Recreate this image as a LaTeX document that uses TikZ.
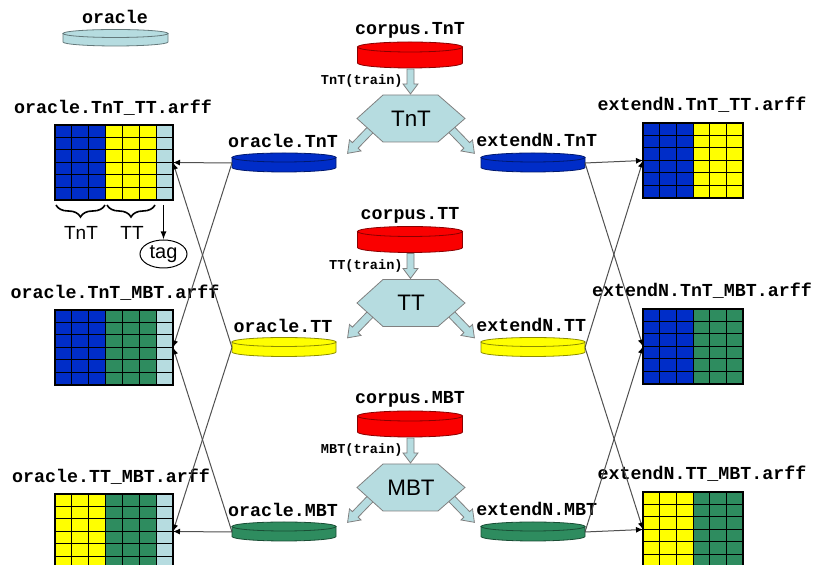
\documentclass[tikz,border=0pt]{standalone}
\usepackage{fontspec}
\setmainfont{Liberation Sans}
\newfontfamily\courier{Liberation Mono}
\usetikzlibrary{arrows.meta,decorations.pathreplacing,shapes.geometric}

\definecolor{cblue}{RGB}{0,45,200}
\definecolor{cyellow}{RGB}{255,255,0}
\definecolor{cgreen}{RGB}{46,140,95}
\definecolor{clight}{RGB}{182,220,224}
\definecolor{cred}{RGB}{250,0,0}
\definecolor{wire}{RGB}{80,80,80}

\begin{document}
\begin{tikzpicture}[x=0.5pt,y=0.5pt,
    lbl/.style={font=\courier\bfseries\fontsize{9.15}{10}\selectfont, inner sep=0pt, anchor=base},
    small/.style={font=\courier\bfseries\fontsize{6.8}{8}\selectfont, inner sep=0pt, anchor=base east},
    word/.style={font=\fontsize{9.5}{10}\selectfont, inner sep=0pt, anchor=base},
    disk/.style={draw=#1!55!black, fill=#1, line width=0.4pt},
    fat/.style={draw=gray, fill=clight, line width=0.4pt},
    cell/.style={black, line width=0.5pt},
    frame/.style={black, line width=1.1pt},
    feed/.style={wire, line width=0.5pt, -{Latex[length=3.5pt,width=3pt,black]}}]
          \useasboundingbox (0,0) rectangle (815,-565);
          \clip (0,0) rectangle (815,-565);

          \draw[disk=clight] (63,-33.5) -- (63,-42) arc[start angle=180,end angle=360,x radius=52.5,y radius=4] -- (168,-33.5) -- cycle;
          \draw[disk=clight] (115.5,-33.5) ellipse[x radius=52.5,y radius=4];
          \node[lbl] (oracle) at (115,-24) {oracle};

          \foreach \nm/\col/\dy in {TnT/cblue/0, TT/cyellow/184.5, MBT/cgreen/369} {
            \begin{scope}[shift={(0,-\dy)}]
              \node[lbl] (c\nm) at (410,-35) {corpus.\nm};
              \draw[disk=cred] (357.5,-47) -- (357.5,-63) arc[start angle=180,end angle=360,x radius=52.5,y radius=5] -- (462.5,-47) -- cycle;
              \draw[disk=cred] (410,-47) ellipse[x radius=52.5,y radius=5];

              \draw[fat] (407,-69) -- (414,-69) -- (414,-84) -- (418,-84) -- (410.5,-94) -- (403,-84) -- (407,-84) -- cycle;
              \node[small] (t\nm) at (403,-85) {\nm(train)};

              \draw[fat, shift={(374,-126)}, rotate=-134] (0,4) -- (27,4) -- (27,8) -- (38,0) -- (27,-8) -- (27,-4) -- (0,-4) -- cycle;
              \draw[fat, shift={(448,-126)}, rotate=-46] (0,4) -- (27,4) -- (27,8) -- (38,0) -- (27,-8) -- (27,-4) -- (0,-4) -- cycle;
              \draw[fat] (357,-118.5) -- (383,-95) -- (438,-95) -- (465,-118.5) -- (438,-142) -- (383,-142) -- cycle;
              \node[font=\fontsize{11.2}{12}\selectfont] (h\nm) at (411,-118.5) {\nm};

              \draw[disk=\col] (232,-157.5) -- (232,-167.5) arc[start angle=180,end angle=360,x radius=52,y radius=4.5] -- (336,-157.5) -- cycle;
              \draw[disk=\col] (284,-157.5) ellipse[x radius=52,y radius=4.5];
              \draw[disk=\col] (481,-157.5) -- (481,-167.5) arc[start angle=180,end angle=360,x radius=52,y radius=4.5] -- (585,-157.5) -- cycle;
              \draw[disk=\col] (533,-157.5) ellipse[x radius=52,y radius=4.5];
              \coordinate (o\nm) at (232,-163);
              \coordinate (e\nm) at (585,-163);
              \node[lbl] (lo\nm) at (283,-148) {oracle.\nm};
              \node[lbl, anchor=base west] (le\nm) at (476,-147) {extendN.\nm};
            \end{scope}
          }

          \foreach \g/\ty/\ca/\cb/\lx/\tx in {TnTTT/125/cblue/cyellow/113/oracle.TnT\_TT.arff,
                                              TnTMBT/310/cblue/cgreen/115/oracle.TnT\_MBT.arff,
                                              TTMBT/494/cyellow/cgreen/111/oracle.TT\_MBT.arff} {
            \fill[\ca] (55,-\ty) rectangle ++(50.6,-75);
            \fill[\cb] (105.6,-\ty) rectangle ++(50.6,-75);
            \fill[clight] (156.2,-\ty) rectangle ++(16.8,-75);
            \foreach \i in {1,...,6} \draw[cell] (55+16.86*\i,-\ty) -- ++(0,-75);
            \foreach \j in {1,...,5} \draw[cell] (55,-\ty-12.5*\j) -- ++(118,0);
            \draw[frame] (55,-\ty) rectangle ++(118,-75);
            \coordinate (g\g) at (173,-\ty-37.5);
            \node[lbl] (lg\g) at (\lx,-\ty+11) {\tx};
          }

          \foreach \g/\ty/\ca/\cb/\tx in {TnTTT/123/cblue/cyellow/extendN.TnT\_TT.arff,
                                          TnTMBT/309/cblue/cgreen/extendN.TnT\_MBT.arff,
                                          TTMBT/492/cyellow/cgreen/extendN.TT\_MBT.arff} {
            \fill[\ca] (643,-\ty) rectangle ++(50,-75);
            \fill[\cb] (693,-\ty) rectangle ++(50,-75);
            \foreach \i in {1,...,5} \draw[cell] (643+16.67*\i,-\ty) -- ++(0,-75);
            \foreach \j in {1,...,5} \draw[cell] (643,-\ty-12.5*\j) -- ++(100,0);
            \draw[frame] (643,-\ty) rectangle ++(100,-75);
            \coordinate (r\g) at (643,-\ty-37.5);
            \node[lbl] (lr\g) at (702,-\ty+12) {\tx};
          }

          \draw[decorate, decoration={brace, mirror, amplitude=6pt}, line width=0.8pt] (56,-205) -- (105,-205);
          \draw[decorate, decoration={brace, mirror, amplitude=6pt}, line width=0.8pt] (107,-205) -- (155,-205);
          \node[word] (bTnT) at (81,-240) {TnT};
          \node[word] (bTT) at (132,-240) {TT};
          \node[ellipse, draw, line width=0.5pt, minimum width=23.5pt, minimum height=14pt, inner sep=0pt,
                font=\fontsize{10}{11}\selectfont] (tag) at (163.5,-254) {tag};
          \coordinate (tagcol) at (163.5,-205);
          \draw[line width=0.7pt, -{Latex[length=4pt,width=3pt]}] (tagcol) -- (tag);

          \draw[feed] (oTnT) -- (gTnTTT);
          \draw[feed] (oTnT) -- (gTnTMBT);
          \draw[feed] (oTT) -- (gTnTTT);
          \draw[feed] (oTT) -- (gTTMBT);
          \draw[feed] (oMBT) -- (gTnTMBT);
          \draw[feed] (oMBT) -- (gTTMBT);

          \draw[feed] (eTnT) -- (rTnTTT);
          \draw[feed] (eTnT) -- (rTnTMBT);
          \draw[feed] (eTT) -- (rTnTTT);
          \draw[feed] (eTT) -- (rTTMBT);
          \draw[feed] (eMBT) -- (rTnTMBT);
          \draw[feed] (eMBT) -- (rTTMBT);
        \end{tikzpicture}
\end{document}
